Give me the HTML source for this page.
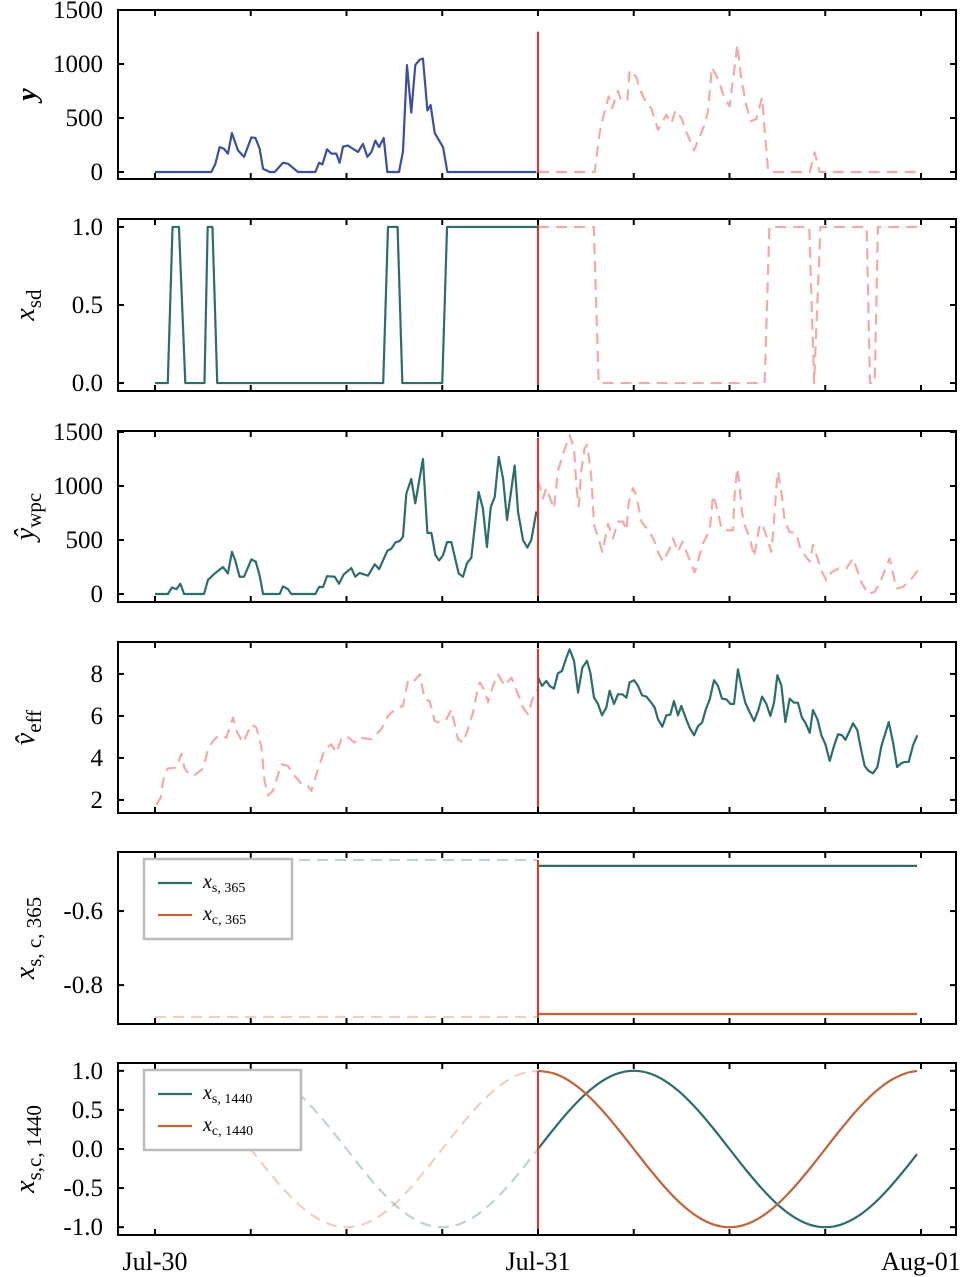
<!DOCTYPE html>
<html><head><meta charset="utf-8"><style>
html,body{margin:0;padding:0;background:#fff}
svg{display:block}
text{font-family:"Liberation Serif","DejaVu Serif",serif;fill:#000}
</style></head><body>
<svg id="chart" width="969" height="1277" viewBox="0 0 969 1277" xmlns="http://www.w3.org/2000/svg"></svg>
<script>
// ---------- data ----------
const yObsH=[0,3.53,3.78,4.05,4.32,4.57,4.82,5.2,5.58,6.04,6.29,6.56,6.77,7.19,7.5,8.02,8.33,8.96,10.05,10.28,10.49,10.78,11.05,11.36,11.57,11.78,12.09,12.72,13.03,13.31,13.56,13.81,14.04,14.33,14.56,15.29,15.54,15.79,16.06,16.31,16.59,16.79,17.07,17.27,17.53,18.05,18.32,23.9];
const yObsV=[0,0,74,230,215,170,360,200,140,320,315,215,30,0,0,85,77,0,0,85,70,210,170,170,85,235,245,185,260,140,185,290,230,315,0,0,190,990,550,990,1040,1050,570,620,360,230,0,0];
const yFcH=[0,3.55,3.86,4.07,4.43,4.64,5.01,5.22,5.6,5.74,6.16,6.37,6.68,7.1,7.52,8.04,8.36,8.61,8.98,9.3,9.78,10.44,10.65,10.9,11.28,11.7,12.01,12.32,12.49,12.74,13.06,13.33,13.68,14.04,14.41,14.52,17.03,17.34,17.65,23.81];
const yFcV=[0,0,360,500,700,590,750,660,670,940,880,770,670,590,390,530,450,570,500,370,200,440,560,970,860,680,610,970,1180,860,610,470,490,690,20,0,0,180,0,0];

const sdObsH=[0,0.8,1.1,1.5,1.9,3.1,3.3,3.6,3.9,14.3,14.6,15.2,15.5,18.0,18.3,24];
const sdObsV=[0,0,1,1,0,0,1,1,0,0,1,1,0,0,1,1];
const sdFcH=[0,3.5,3.8,14.2,14.5,17.0,17.3,17.7,20.6,20.8,21.1,21.3,23.8];
const sdFcV=[1,1,0,0,1,1,0,1,1,0,0,1,1];

const wObsH=[0,0.81,1.06,1.34,1.59,1.82,3.07,3.32,3.74,4.26,4.57,4.82,5.03,5.3,5.58,6.04,6.31,6.56,6.77,7.81,8.02,8.33,8.54,10.05,10.28,10.53,10.78,11.26,11.53,11.82,12.3,12.55,12.82,13.35,13.77,14.04,14.56,14.81,15.08,15.33,15.54,15.75,16.06,16.31,16.79,17.07,17.32,17.57,17.8,18.05,18.3,18.57,19.03,19.3,19.55,19.82,20.28,20.55,20.8,21.04,21.29,21.54,21.81,22.06,22.54,22.75,23.06,23.33,23.58,23.9];
const wObsV=[0,0,60,45,95,0,0,130,190,250,190,390,310,160,160,320,300,170,0,0,70,45,0,0,65,65,165,160,95,180,240,160,195,170,275,230,400,420,480,490,530,930,1065,840,1250,565,565,360,310,360,480,480,190,160,285,335,945,790,435,805,900,1270,1070,685,1190,760,500,430,500,765];
const wFcH=[0,0.31,0.52,1.0,1.25,1.67,1.98,2.26,2.4,2.55,2.72,2.92,3.09,3.34,3.51,3.76,4.03,4.39,4.7,5.01,5.33,5.54,5.68,5.95,6.16,6.48,7.0,7.31,7.52,7.83,8.25,8.46,8.77,9.05,9.3,9.82,10.34,10.76,10.97,11.28,11.49,11.87,12.22,12.32,12.49,12.64,12.78,12.95,13.27,13.54,13.89,14.04,14.37,14.62,14.73,14.94,15.04,15.29,15.46,15.77,16.19,16.4,16.71,17.03,17.23,17.55,17.76,18.07,18.38,18.8,19.32,19.74,20.26,20.68,21.1,21.52,22.04,22.46,22.87,23.4,23.81];
const wFcV=[1055,885,980,790,1140,1340,1470,1350,1010,810,1150,1350,1380,1085,640,530,390,650,515,670,670,590,840,980,915,670,575,485,390,300,420,515,390,485,390,200,470,590,915,760,605,590,590,915,1165,995,760,640,515,345,640,650,515,390,560,995,1135,900,670,575,560,440,360,300,455,315,220,125,200,235,235,330,110,0,20,140,330,50,65,140,220];

const vObsH=[0.08,0.35,0.6,0.81,1.34,1.65,1.86,2.17,2.48,3.01,3.32,3.63,3.95,4.47,4.89,5.16,5.51,5.72,6.04,6.35,6.66,6.87,7.08,7.39,7.92,8.33,8.75,9.27,9.59,9.8,10.21,10.63,11.05,11.36,11.68,11.99,12.51,12.82,13.56,14.18,14.6,15.02,15.54,15.85,16.17,16.59,16.9,17.21,17.53,17.84,18.26,18.57,18.99,19.3,19.61,19.93,20.14,20.35,20.66,20.87,21.18,21.49,21.91,22.33,22.75,23.06,23.37,23.69,23.95];
const vObsV=[1.77,2.1,3.3,3.5,3.54,4.2,3.5,3.2,3.18,3.5,4.4,4.8,5.05,4.97,5.92,5.2,4.73,5.05,5.6,5.45,4.57,2.9,2.22,2.43,3.7,3.62,3.14,2.7,2.67,2.43,3.46,4.4,4.65,4.25,4.89,5.05,4.73,4.97,4.89,5.37,6.0,6.3,6.48,7.67,7.6,7.98,6.79,6.71,5.76,5.68,5.84,6.3,4.89,4.73,5.37,6.17,6.97,7.6,7.2,6.65,7.43,7.98,7.43,7.83,7.03,6.4,6.08,6.87,7.27];
const vFcH=[0,0.25,0.52,0.73,1.0,1.25,1.5,1.78,1.98,2.26,2.51,2.78,3.07,3.28,3.51,3.76,4.01,4.28,4.49,4.76,5.01,5.29,5.54,5.74,6.02,6.27,6.52,6.79,7.1,7.31,7.52,7.79,8.04,8.29,8.52,8.77,8.98,9.25,9.5,9.78,10.03,10.28,10.51,10.76,11.03,11.28,11.53,11.8,12.07,12.28,12.53,12.74,12.99,13.27,13.54,13.79,14.04,14.31,14.56,14.79,15.0,15.25,15.5,15.77,16.04,16.29,16.54,16.75,17.03,17.23,17.51,17.76,18.01,18.28,18.55,18.8,19.05,19.26,19.53,19.74,20.01,20.22,20.47,20.72,20.99,21.27,21.52,21.98,22.25,22.5,22.77,22.98,23.23,23.5,23.77];
const vFcV=[7.83,7.43,7.67,7.43,7.3,8.03,8.14,8.78,9.17,8.62,7.11,8.3,8.62,8.06,6.87,6.57,6.03,6.4,7.2,6.57,7.03,7.03,6.87,7.6,7.7,7.43,6.98,6.92,6.63,6.4,5.84,5.49,6.03,6.06,6.71,6.03,6.48,5.92,5.44,5.08,5.52,5.68,6.3,6.79,7.7,7.43,6.82,6.79,6.57,6.57,8.22,7.43,6.63,6.17,5.76,6.24,6.92,6.57,6.0,6.63,7.94,7.46,5.71,6.82,6.63,6.63,5.92,5.68,5.2,6.28,5.84,5.08,4.65,3.86,4.57,5.13,5.08,4.86,5.29,5.65,5.33,4.49,3.62,3.38,3.27,3.57,4.57,5.71,4.73,3.57,3.75,3.81,3.81,4.6,5.08];

const s365ObsH=[0,24], s365ObsV=[-0.462,-0.462];
const s365FcH=[0,23.75], s365FcV=[-0.478,-0.478];
const c365ObsH=[0,24], c365ObsV=[-0.886,-0.886];
const c365FcH=[0,23.75], c365FcV=[-0.878,-0.878];

const dayH=[0,1,2,3,4,5,6,7,8,9,10,11,12,13,14,15,16,17,18,19,20,21,22,23,24];
const sinV=[0,0.259,0.5,0.707,0.866,0.966,1,0.966,0.866,0.707,0.5,0.259,0,-0.259,-0.5,-0.707,-0.866,-0.966,-1,-0.966,-0.866,-0.707,-0.5,-0.259,0];
const cosV=[1,0.966,0.866,0.707,0.5,0.259,0,-0.259,-0.5,-0.707,-0.866,-0.966,-1,-0.966,-0.866,-0.707,-0.5,-0.259,0,0.259,0.5,0.707,0.866,0.966,1];
const dayFcH=[0,1,2,3,4,5,6,7,8,9,10,11,12,13,14,15,16,17,18,19,20,21,22,23,23.75];
const sinFcV=[0,0.259,0.5,0.707,0.866,0.966,1,0.966,0.866,0.707,0.5,0.259,0,-0.259,-0.5,-0.707,-0.866,-0.966,-1,-0.966,-0.866,-0.707,-0.5,-0.259,-0.065];
const cosFcV=[1,0.966,0.866,0.707,0.5,0.259,0,-0.259,-0.5,-0.707,-0.866,-0.966,-1,-0.966,-0.866,-0.707,-0.5,-0.259,0,0.259,0.5,0.707,0.866,0.966,0.998];

const xTickLabels=["Jul-30","Jul-31","Aug-01"];
const xTickLabelHours=[0,24,48];
const xMinorHours=[0,6,12,18,24,30,36,42,48];

// ---------- rendering ----------
const NS="http://www.w3.org/2000/svg";
const svg=document.getElementById('chart');
const L=118,R=956;
const xs=h=>155+h*(383/24);
function el(tag,attrs,parent){const e=document.createElementNS(NS,tag);for(const k in attrs)e.setAttribute(k,attrs[k]);(parent||svg).appendChild(e);return e;}

const BLUE="#3b4fa3",TEAL="#2c6e6a",ORANGE="#c2643a",PINK="#f4a9a9",RED="#e8302a";

function linePath(pts){return pts.map((p,i)=>(i?'L':'M')+p[0].toFixed(2)+' '+p[1].toFixed(2)).join('');}
function smoothPath(pts){
  let d='M'+pts[0][0].toFixed(2)+' '+pts[0][1].toFixed(2);
  for(let i=0;i<pts.length-1;i++){
    const p0=pts[Math.max(0,i-1)],p1=pts[i],p2=pts[i+1],p3=pts[Math.min(pts.length-1,i+2)];
    const c1=[p1[0]+(p2[0]-p0[0])/6,p1[1]+(p2[1]-p0[1])/6];
    const c2=[p2[0]-(p3[0]-p1[0])/6,p2[1]-(p3[1]-p1[1])/6];
    d+='C'+c1[0].toFixed(2)+' '+c1[1].toFixed(2)+' '+c2[0].toFixed(2)+' '+c2[1].toFixed(2)+' '+p2[0].toFixed(2)+' '+p2[1].toFixed(2);
  }
  return d;
}

function panel(cfg){
  const g=el('g',{});
  
  
  const T=cfg.top,B=cfg.bottom;
  const ys=v=>B-(v-cfg.ymin)/(cfg.ymax-cfg.ymin)*(B-T);
  cfg.series.forEach(s=>{
    const pts=s.h.map((h,i)=>[xs(h+s.off),ys(s.v[i])]);
    const d=s.smooth?smoothPath(pts):linePath(pts);
    const p=el('path',{d:d,fill:'none',stroke:s.color,'stroke-width':2.2,'stroke-linejoin':'round','stroke-opacity':s.alpha||1},g);
    if(s.dash)p.setAttribute('stroke-dasharray','11 7');
    
    
  });
  const vl=el('line',{x1:538,x2:538,y1:ys(cfg.vtop),y2:B,stroke:RED,'stroke-width':2},g);
  
  
  const fr=el('rect',{x:L,y:T,width:R-L,height:B-T,fill:'none',stroke:'#000','stroke-width':2},g);
  
  
  xMinorHours.forEach(h=>{
    const x=xs(h);
    el('line',{x1:x,x2:x,y1:T,y2:T+6,stroke:'#000','stroke-width':2},g);
    el('line',{x1:x,x2:x,y1:B,y2:B-6,stroke:'#000','stroke-width':2},g);
  });
  cfg.yticks.forEach((v,i)=>{
    const y=ys(v);
    el('line',{x1:L,x2:L+6,y1:y,y2:y,stroke:'#000','stroke-width':2},g);
    el('line',{x1:R,x2:R-6,y1:y,y2:y,stroke:'#000','stroke-width':2},g);
    const t=el('text',{x:103,y:y+8,'text-anchor':'end','font-size':25},g);
    t.textContent=cfg.ylabels[i];
    
    
  });
  const yt=el('text',{transform:`translate(${cfg.titleX||34},${(T+B)/2}) rotate(-90)`,'text-anchor':'middle','font-size':28},g);
  
  
  yt.innerHTML=cfg.title;
  if(cfg.legend){
    const lg=el('g',{},g);
    
    
    el('rect',{x:144,y:T+7,width:cfg.legend.w,height:80,fill:'#fff',stroke:'#bbb','stroke-width':2.5},lg);
    cfg.legend.items.forEach((it,i)=>{
      const y=T+31+i*32;
      el('line',{x1:158,x2:192,y1:y,y2:y,stroke:it.color,'stroke-width':2.2},lg);
      const t=el('text',{x:203,y:y+5,'font-size':20},lg);
      t.innerHTML=it.label;
      
      
    });
  }
}

panel({name:'panel-y',top:10,bottom:179,ymin:-65,ymax:1500,vtop:1300,
  yticks:[0,500,1000,1500],ylabels:["0","500","1000","1500"],
  title:'<tspan font-style="italic" font-weight="bold">y</tspan>',titleX:36,
  series:[{name:'y-observed',h:yObsH,v:yObsV,off:0,color:BLUE},
          {name:'y-future',h:yFcH,v:yFcV,off:24,color:PINK,dash:true}]});
panel({name:'panel-xsd',top:219,bottom:391,ymin:-0.051,ymax:1.051,vtop:1.03,
  yticks:[0,0.5,1],ylabels:["0.0","0.5","1.0"],
  title:'<tspan font-style="italic">x</tspan><tspan font-size="21" dy="7">sd</tspan>',
  series:[{name:'xsd-observed',h:sdObsH,v:sdObsV,off:0,color:TEAL},
          {name:'xsd-future',h:sdFcH,v:sdFcV,off:24,color:PINK,dash:true}]});
panel({name:'panel-ywpc',top:431,bottom:602,ymin:-74,ymax:1509,vtop:1445,
  yticks:[0,500,1000,1500],ylabels:["0","500","1000","1500"],
  title:'<tspan font-style="italic">ŷ</tspan><tspan font-size="21" dy="7">wpc</tspan>',
  series:[{name:'ywpc-observed',h:wObsH,v:wObsV,off:0,color:TEAL},
          {name:'ywpc-forecast',h:wFcH,v:wFcV,off:24,color:PINK,dash:true}]});
panel({name:'panel-veff',top:642,bottom:813,ymin:1.38,ymax:9.52,vtop:9.2,
  yticks:[2,4,6,8],ylabels:["2","4","6","8"],
  title:'<tspan font-style="italic">v̂</tspan><tspan font-size="21" dy="7">eff</tspan>',
  series:[{name:'veff-observed',h:vObsH,v:vObsV,off:0,color:PINK,dash:true},
          {name:'veff-forecast',h:vFcH,v:vFcV,off:24,color:TEAL}]});
panel({name:'panel-x365',top:852,bottom:1024,ymin:-0.905,ymax:-0.4405,vtop:-0.462,
  yticks:[-0.8,-0.6],ylabels:["-0.8","-0.6"],
  title:'<tspan font-style="italic">x</tspan><tspan font-size="21" dy="7">s, c, 365</tspan>',
  series:[{name:'xs365-observed',h:s365ObsH,v:s365ObsV,off:0,color:TEAL,dash:true,alpha:0.3},
          {name:'xc365-observed',h:c365ObsH,v:c365ObsV,off:0,color:ORANGE,dash:true,alpha:0.3},
          {name:'xs365-future',h:s365FcH,v:s365FcV,off:24,color:TEAL},
          {name:'xc365-future',h:c365FcH,v:c365FcV,off:24,color:ORANGE}],
  legend:{w:148,items:[{color:TEAL,label:'<tspan font-style="italic">x</tspan><tspan font-size="14" dy="4">s, 365</tspan>'},
                       {color:ORANGE,label:'<tspan font-style="italic">x</tspan><tspan font-size="14" dy="4">c, 365</tspan>'}]}});
panel({name:'panel-x1440',top:1063,bottom:1235,ymin:-1.1,ymax:1.1,vtop:1.0,
  yticks:[-1,-0.5,0,0.5,1],ylabels:["-1.0","-0.5","0.0","0.5","1.0"],
  title:'<tspan font-style="italic">x</tspan><tspan font-size="21" dy="7">s,c, 1440</tspan>',
  series:[{name:'xs1440-observed',h:dayH,v:sinV,off:0,color:TEAL,dash:true,alpha:0.3,smooth:true},
          {name:'xc1440-observed',h:dayH,v:cosV,off:0,color:ORANGE,dash:true,alpha:0.3,smooth:true},
          {name:'xs1440-future',h:dayFcH,v:sinFcV,off:24,color:TEAL,smooth:true},
          {name:'xc1440-future',h:dayFcH,v:cosFcV,off:24,color:ORANGE,smooth:true}],
  legend:{w:157,items:[{color:TEAL,label:'<tspan font-style="italic">x</tspan><tspan font-size="14" dy="4">s, 1440</tspan>'},
                       {color:ORANGE,label:'<tspan font-style="italic">x</tspan><tspan font-size="14" dy="4">c, 1440</tspan>'}]}});

xTickLabels.forEach((lab,i)=>{
  const t=el('text',{x:xs(xTickLabelHours[i]),y:1270,'text-anchor':'middle','font-size':26});
  t.textContent=lab;
  
  
});
</script>
</body></html>
